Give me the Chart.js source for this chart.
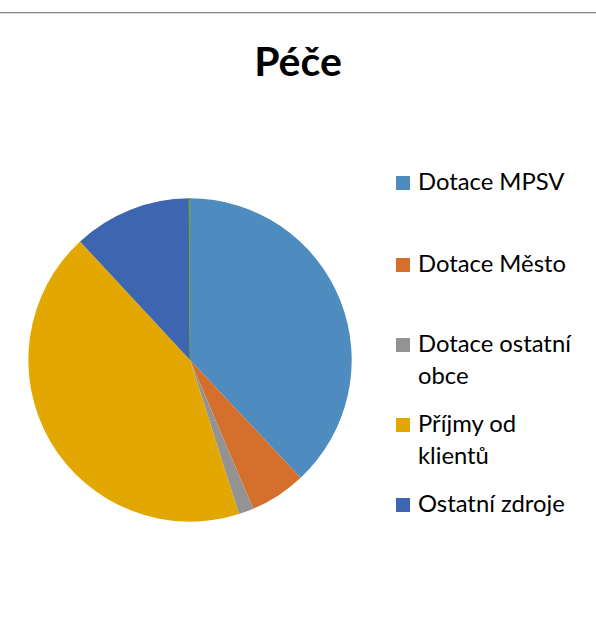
<!DOCTYPE html>
<html lang="cs">
<head>
<meta charset="utf-8">
<script src="https://cdn.jsdelivr.net/npm/chart.js@4"></script>
<style>
    body { margin: 0; background: #fff; font-family: Lato, "Open Sans", sans-serif; }
    #page { position: relative; width: 596px; height: 619px; overflow: hidden; }
    #topline { position: absolute; left: 0; top: 12px; width: 596px; height: 1px; background: #858585; box-shadow: 0 1px 0 #d8d8d8; }
    #title { position: absolute; left: 0; width: 596px; top: 36px; text-align: center; font-weight: bold; font-size: 41px; line-height: 50px; color: #000; }
    #pieBox { position: absolute; left: 28px; top: 198px; width: 324px; height: 324px; }
    .box { position: absolute; left: 396px; width: 14px; height: 14px; }
    .txt { position: absolute; left: 418px; width: 165px; font-size: 23.8px; line-height: 32.5px; color: #000; }
</style>
</head>
<body>
<div id="page">
    <div id="topline"></div>
    <div id="title">Péče</div>
    <div id="pieBox"><canvas id="pie" width="324" height="324"></canvas></div>
    <div id="legend"></div>
</div>
<script>
// Data
const categories = ["Dotace MPSV", "Dotace Město", "Dotace ostatní obce", "Příjmy od klientů", "Ostatní zdroje", ""];
const values = [38.0, 5.6, 1.5, 43.0, 11.8, 0.1];
const colors = ["#4E8BBF", "#D46F2C", "#939393", "#E2A700", "#3E65AF", "#6FA33F"];

// Legend baselines (layout only)
const legendBaselines = [190, 272, 352, 432, 512];

const ctx = document.getElementById("pie").getContext("2d");

const pieChart = new Chart(ctx, {
    type: "pie",
    data: {
        labels: categories,
        datasets: [{
            data: values,
            backgroundColor: colors,
            borderColor: colors,
            borderWidth: [0, 0, 0, 0, 0, 1],
            borderAlign: "inner"
        }]
    },
    options: {
        responsive: false,
        animation: false,
        plugins: {
            legend: { display: false },
            tooltip: { enabled: false }
        }
    }
});

// HTML legend, skip the unnamed sliver
const legend = document.getElementById("legend");
categories.forEach((name, i) => {
    if (!name) return;
    const box = document.createElement("div");
    box.className = "box";
    box.style.background = colors[i];
    box.style.top = (legendBaselines[i] - 14) + "px";
    legend.appendChild(box);

    const txt = document.createElement("div");
    txt.className = "txt";
    txt.textContent = name;
    txt.style.top = (legendBaselines[i] - 25.5) + "px";
    legend.appendChild(txt);
});
</script>
</body>
</html>
